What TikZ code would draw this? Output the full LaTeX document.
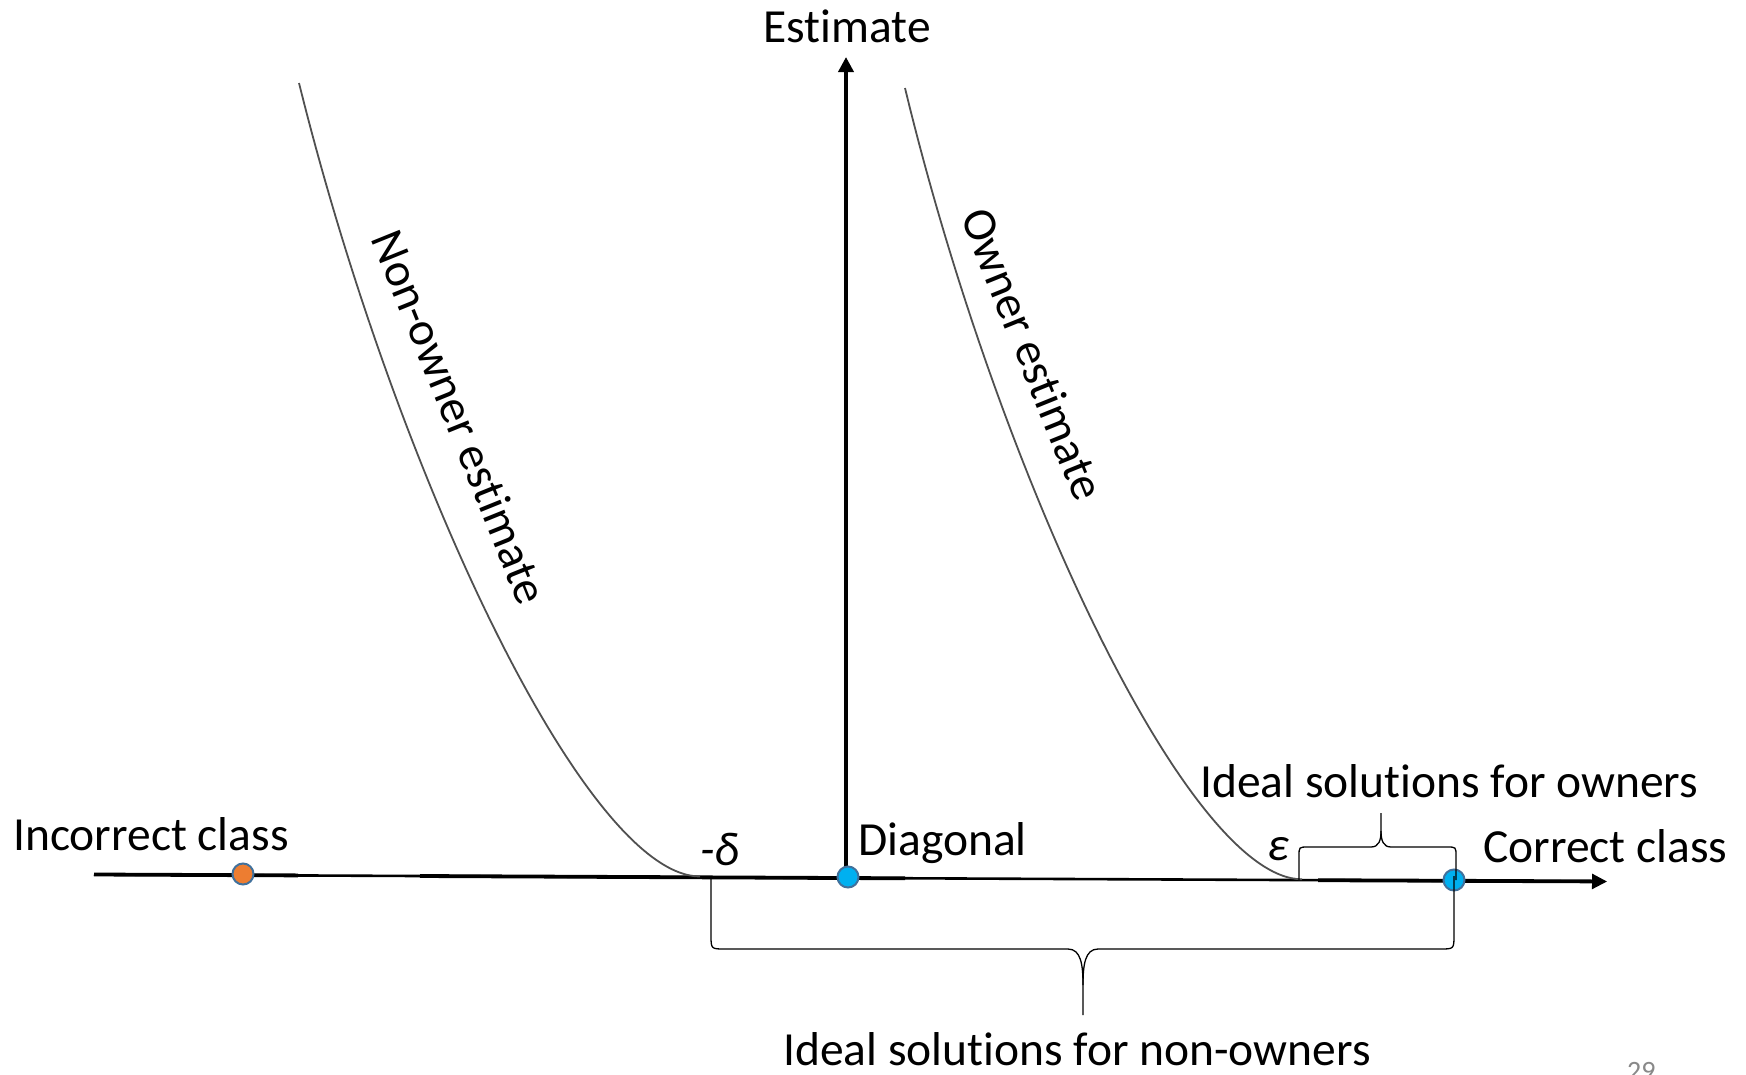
\documentclass[tikz,border=0pt]{standalone}
\usepackage{fontspec}
\setmainfont{Carlito}[Ligatures=CommonOff]
\usetikzlibrary{arrows.meta}
\definecolor{dotblue}{RGB}{0,176,240}
\definecolor{dotedge}{RGB}{65,113,156}
\definecolor{dotorange}{RGB}{237,125,49}
\definecolor{curvegray}{RGB}{80,80,80}
\definecolor{pagegray}{RGB}{137,137,137}
\begin{document}
\begin{tikzpicture}[x=1pt,y=-1pt,
  lbl/.style={inner sep=0pt, font=\fontsize{47.5}{57}\selectfont},
  axisthin/.style={line width=2.6pt},
  axisthick/.style={line width=3.8pt},
  est/.style={draw=curvegray, line width=1.8pt},
  bracepath/.style={draw=black, line width=1.3pt},
  dotpt/.style={circle, draw=dotedge, line width=2pt, minimum size=21pt, inner sep=0pt},
  tip/.style={-{Triangle[length=15pt,width=15pt]}}
]
\fill[white] (0,0) rectangle (1746,1074);
\useasboundingbox (0,0) rectangle (1746,1074);

% axes
\coordinate (xl) at (94,874.5);
\coordinate (xr) at (1607,881.5);
\coordinate (ytop) at (846,57);
\coordinate (obase) at (846,877);
\draw[axisthin, tip] (xl) -- (xr);
\draw[axisthick] (94,874.5) -- (298,875.4);
\draw[axisthick] (420,876) -- (905,878.3);
\draw[axisthick] (1318,880.2) -- (1594,881.4);
\draw[line width=3.6pt, tip] (obase) -- (ytop);

% estimate curves
\draw[est] (299,83) .. controls (395,470) and (585,876) .. (700,876.5);
\draw[est] (905,88) .. controls (998,473) and (1188,879) .. (1302,879.3);

% dots
\node[dotpt, fill=dotorange] (incdot) at (243,874) {};
\node[dotpt, fill=dotblue] (origin) at (848,877) {};
\node[dotpt, fill=dotblue] (corrdot) at (1454,880) {};

% brace for non-owners
\draw[bracepath] (711,879) -- (711,935) .. controls (711,949) .. (725,949) -- (1068,949)
  .. controls (1081,949) and (1083,965) .. (1083,985) -- (1083,1015);
\draw[bracepath] (1454,876) -- (1454,935) .. controls (1454,949) .. (1440,949) -- (1098,949)
  .. controls (1085,949) and (1083,965) .. (1083,985);

% brace for owners
\draw[bracepath] (1299,880) -- (1299,856) .. controls (1299,847) .. (1308,847) -- (1371,847)
  .. controls (1379,847) and (1381,840) .. (1381,831) -- (1381,813);
\draw[bracepath] (1456,880) -- (1456,856) .. controls (1456,847) .. (1447,847) -- (1391,847)
  .. controls (1383,847) and (1381,840) .. (1381,831);

% labels
\node[lbl, anchor=base] (estimate) at (847,42) {Estimate};
\node[lbl, anchor=base west] (incorrect) at (13,850) {Incorrect class};
\node[lbl, anchor=base west] (diagonal) at (858,855) {Diagonal};
\node[lbl, anchor=base] (delta) at (720,865) {\textit{-δ}};
\node[lbl, anchor=base] (eps) at (1278,860) {\textit{ε}};
\node[lbl, anchor=base west] (idealown) at (1200,797) {Ideal solutions for owners};
\node[lbl, anchor=base west] (correct) at (1483,862) {Correct class};
\node[lbl, anchor=base west] (idealnon) at (783,1065) {Ideal solutions for non-owners};
\node[anchor=base west, inner sep=0pt, text=pagegray, font=\fontsize{28}{34}\selectfont] (pagenum) at (1627,1080) {29};
\node[lbl, rotate=-68] (nonownerlbl) at (460,417) {Non-owner estimate};
\node[lbl, rotate=-68] (ownerlbl) at (1033,354) {Owner estimate};
\end{tikzpicture}
\end{document}
